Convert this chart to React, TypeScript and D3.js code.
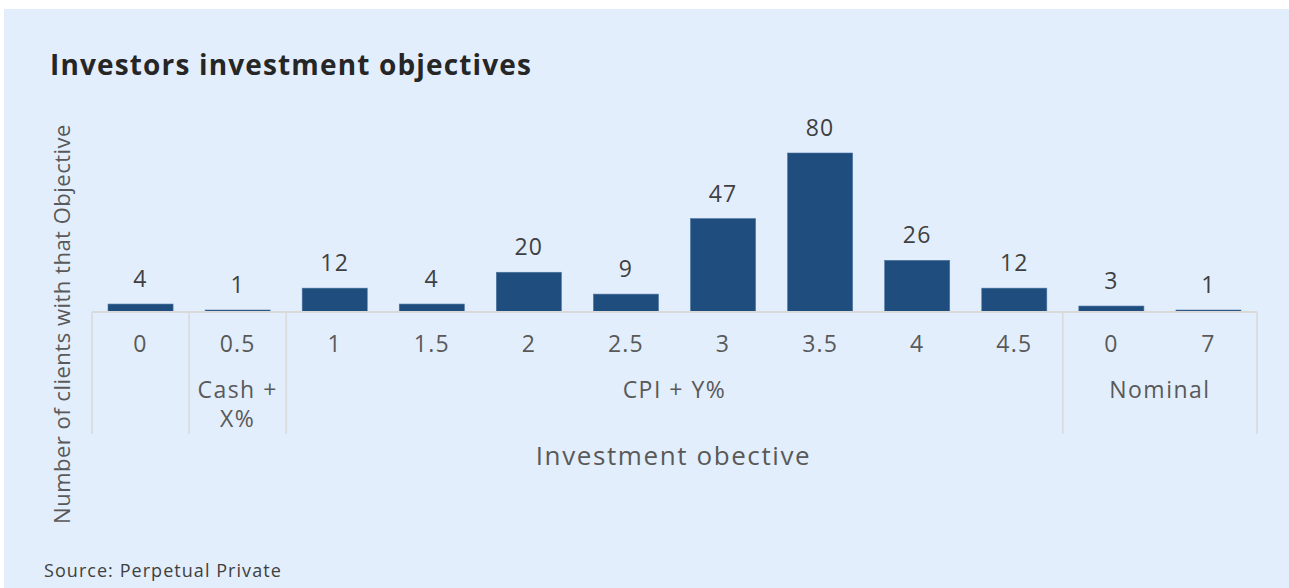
import React from "react";
import * as d3 from "d3";

const categories = ["0", "0.5", "1", "1.5", "2", "2.5", "3", "3.5", "4", "4.5", "0", "7"];
const values = [4, 1, 12, 4, 20, 9, 47, 80, 26, 12, 3, 1];
const groupLabels: string[][] = [[], ["Cash +", "X%"], ["CPI + Y%"], ["Nominal"]];
const groupSizes = [1, 1, 8, 2];
const yMax = 80;

const title = "Investors investment objectives";
const xTitle = "Investment obective";
const yTitle = "Number of clients with that Objective";
const source = "Source: Perpetual Private";

const W = 1289;
const H = 588;
const FONT = "'Open Sans', 'Noto Sans', sans-serif";

export default function App() {
  const left = 92, right = 1257, base = 312, top = 153;
  const idx = d3.range(categories.length);
  const x = d3.scaleBand<number>().domain(idx).range([left, right]).paddingInner(0.33).paddingOuter(0.165);
  const y = d3.scaleLinear().domain([0, yMax]).range([base, top]);
  const step = x.step();
  const bounds: number[] = [0];
  groupSizes.forEach((s) => bounds.push(bounds[bounds.length - 1] + s));
  const boundX = (k: number) => (k === 0 ? left : k === categories.length ? right : x(k)! - (x.paddingInner() * step) / 2);

  return (
    <svg width={W} height={H} style={{ position: "absolute", left: 0, top: 0 }}>
      <rect x={0} y={0} width={W} height={H} fill="#ffffff" />
      <rect x={4} y={9} width={W - 4} height={H - 9} fill="#E3EEFC" />
      <text x={50} y={75} fontFamily={FONT} fontWeight={700} fontSize={28} letterSpacing={1.15} fill="#262626">{title}</text>

      {values.map((v, i) => (
        <g key={i}>
          <rect x={x(i)} y={y(v)} width={x.bandwidth()} height={base - y(v)} fill="#1F4E7E" stroke="#4A73A0" strokeWidth={0.6} />
          <text x={x(i)! + x.bandwidth() / 2} y={y(v) - 17} textAnchor="middle" fontFamily={FONT} fontSize={23} letterSpacing={1.2} fill="#404040">{v}</text>
          <text x={x(i)! + x.bandwidth() / 2} y={352} textAnchor="middle" fontFamily={FONT} fontSize={23} letterSpacing={1.2} fill="#595959">{categories[i]}</text>
        </g>
      ))}

      <line x1={left} x2={right} y1={base} y2={base} stroke="#D9D9D9" strokeWidth={2} />
      {bounds.map((b, k) => (
        <line key={k} x1={boundX(b)} x2={boundX(b)} y1={base} y2={434} stroke="#D9D9D9" strokeWidth={1.5} />
      ))}
      {groupLabels.map((lines, g) => {
        const cx = (boundX(bounds[g]) + boundX(bounds[g + 1])) / 2;
        return lines.map((ln, j) => (
          <text key={g + "-" + j} x={cx} y={398 + j * 29} textAnchor="middle" fontFamily={FONT} fontSize={23} letterSpacing={1.5} fill="#595959">{ln}</text>
        ));
      })}

      <text x={(left + right) / 2 - 1} y={465} textAnchor="middle" fontFamily={FONT} fontSize={26} letterSpacing={1.6} fill="#595959">{xTitle}</text>
      <text transform={`translate(70,324) rotate(-90)`} textAnchor="middle" fontFamily={FONT} fontSize={22} letterSpacing={0.5} fill="#595959">{yTitle}</text>
      <text x={44} y={577} fontFamily={FONT} fontSize={18} letterSpacing={1.05} fill="#404040">{source}</text>
    </svg>
  );
}
